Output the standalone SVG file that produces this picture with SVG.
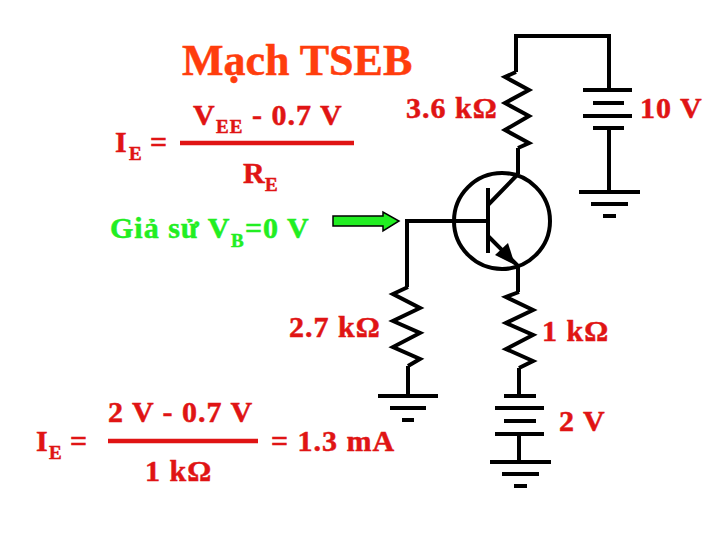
<svg xmlns="http://www.w3.org/2000/svg" width="720" height="540" viewBox="0 0 720 540">
<style>
text{font-family:"Liberation Serif","Times New Roman",serif;font-weight:bold;fill:#e01414;stroke:#e01414;stroke-width:0.5px;font-size:30px;letter-spacing:1px}
.sub{font-size:19px}
.title{font-size:44px;fill:#ff3d0d;stroke:#ff3d0d;letter-spacing:0}
.green{fill:#22ee22;stroke:#22ee22}
.w{fill:none;stroke:#000;stroke-width:4;stroke-linejoin:miter}
.red{stroke:#e01414;stroke-width:4.5;fill:none}
</style>
<rect width="720" height="540" fill="#fff"/>
<g id="connectors">
<path class="w" d="M516 72V36H609V90"/>
<path class="w" d="M609 128V192"/>
<path class="w" d="M518 148V174"/>
<path class="w" d="M518 266V292"/>
<path class="w" d="M407 287V221H488"/>
<path class="w" d="M519 368V396"/>
<path class="w" d="M408 366V396"/>
<path class="w" d="M519 434V462"/>
</g>
<g id="resistor-collector"><path class="w" d="M516 72L505 77L529 90L505 103L529 116L505 130L529 143L518 148"/></g>
<g id="resistor-base"><path class="w" d="M408 287L393 294L420 308L393 321L420 333L393 347L420 359L408 366"/></g>
<g id="resistor-emitter"><path class="w" d="M519 292L506 297L533 310L506 323L533 335L506 349L533 361L519 368"/></g>
<g id="transistor">
<circle class="w" cx="502" cy="221" r="48"/>
<path class="w" d="M488 188V253M488 205L518 174M488 236L518 266"/>
<path d="M515 265L495 255L508 243Z" fill="#000"/>
</g>
<g id="battery-10v"><path class="w" d="M583 90H632M593 103H624M583 116H632M593 128H624"/></g>
<g id="ground-10v"><path class="w" d="M579 192H640M591 204H628M603 216H616"/></g>
<g id="ground-base"><path class="w" d="M378 396H438M390 408H426M402 420H414"/></g>
<g id="battery-2v"><path class="w" d="M504 396H536M495 408H544M504 421H536M495 434H544"/></g>
<g id="ground-2v"><path class="w" d="M490 462H551M502 474H539M514 486H527"/></g>
<g id="arrow"><path d="M333 216H383V212L399 221L383 231V226H333Z" fill="#22ee22" stroke="#000" stroke-width="1.5"/></g>
<g id="title"><text class="title" x="182" y="75">Mạch TSEB</text></g>
<g id="formula-top">
<text x="115" y="152">I<tspan class="sub" x="129" dy="8">E</tspan><tspan x="150" dy="-8">=</tspan></text>
<text x="193" y="125">V<tspan class="sub" x="216" dy="8">EE</tspan><tspan x="252" dy="-8">- 0.7 V</tspan></text>
<path class="red" d="M180 143H354"/>
<text x="243" y="183">R<tspan class="sub" x="265" dy="8">E</tspan></text>
</g>
<g id="assume"><text class="green" x="110" y="238">Giả sử V<tspan class="sub" x="231" dy="9">B</tspan><tspan x="245" dy="-9">=0 V</tspan></text></g>
<g id="labels">
<text x="406" y="118">3.6 kΩ</text>
<text x="640" y="118">10 V</text>
<text x="289" y="337">2.7 kΩ</text>
<text x="542" y="341">1 kΩ</text>
<text x="559" y="431">2 V</text>
</g>
<g id="formula-bottom">
<text x="36" y="451">I<tspan class="sub" x="49" dy="8">E</tspan><tspan x="70" dy="-8">=</tspan></text>
<text x="108" y="422">2 V - 0.7 V</text>
<path class="red" d="M108 441H258"/>
<text x="271" y="451">= 1.3 mA</text>
<text x="145" y="481">1 kΩ</text>
</g>
</svg>
